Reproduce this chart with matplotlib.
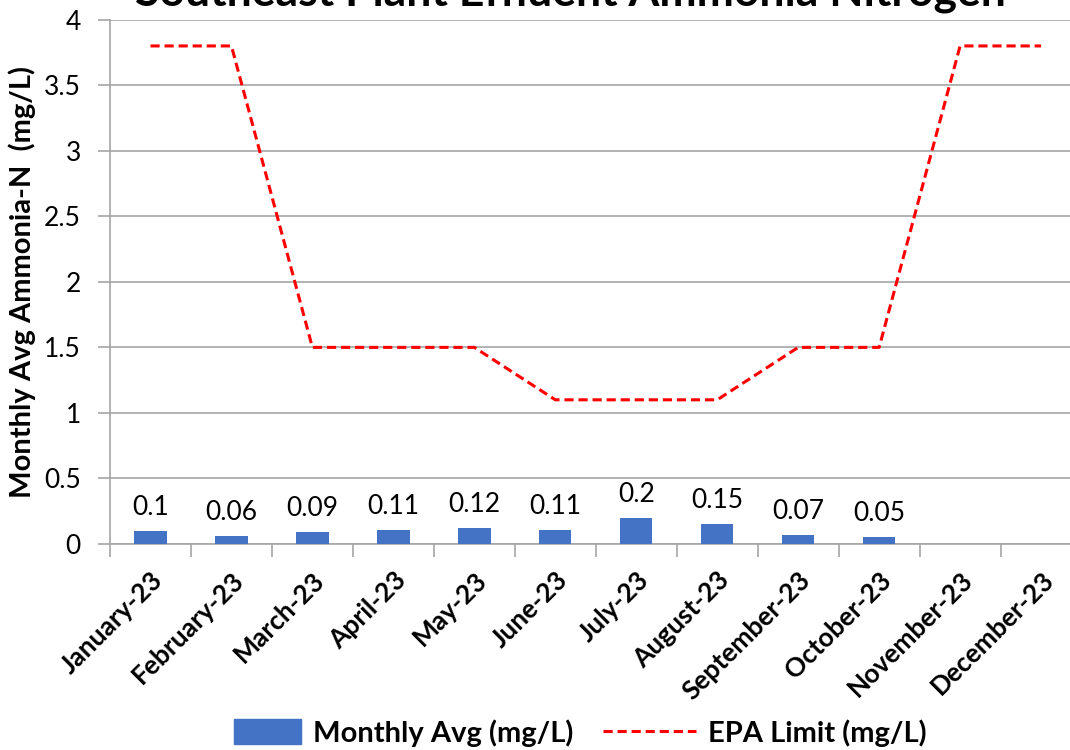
import numpy as np
import matplotlib
matplotlib.use("Agg")
from matplotlib import pyplot as plt
from matplotlib.patches import Patch, Rectangle
from matplotlib.lines import Line2D
from matplotlib.legend_handler import HandlerPatch

months = ["January-23", "February-23", "March-23", "April-23", "May-23", "June-23",
          "July-23", "August-23", "September-23", "October-23", "November-23", "December-23"]
monthly_avg = [0.1, 0.06, 0.09, 0.11, 0.12, 0.11, 0.2, 0.15, 0.07, 0.05, None, None]
epa_limit = [3.8, 3.8, 1.5, 1.5, 1.5, 1.1, 1.1, 1.1, 1.5, 1.5, 3.8, 3.8]
yticks = [0, 0.5, 1, 1.5, 2, 2.5, 3, 3.5, 4]

plt.rcParams['font.family'] = ['Lato', 'DejaVu Sans']

fig = plt.figure(figsize=(10.7, 7.5), dpi=100)
ax = fig.add_axes([0.1028, 0.2747, 0.908, 0.699])

x = np.arange(len(months))
bar_x = [i for i, v in zip(x, monthly_avg) if v is not None]
bar_v = [v for v in monthly_avg if v is not None]
ax.bar(bar_x, bar_v, width=0.4, color="#4472c4", zorder=3)
for xi, v in zip(bar_x, bar_v):
    ax.annotate(f"{v:g}", (xi, v), xytext=(0, 11.5), textcoords="offset points",
                ha="center", va="baseline", fontsize=19)

dash = (0, (3, 1.6))
ax.plot(x, epa_limit, color="red", linestyle=dash, linewidth=2.2, zorder=4)

ax.set_xlim(-0.5, len(months) - 0.5)
ax.set_ylim(0, 4)
ax.set_yticks(yticks)
ax.set_yticklabels([f"{t:g}" for t in yticks], fontsize=19)
ax.grid(axis="y", color="#a6a6a6", linewidth=1.2, zorder=0)
ax.set_axisbelow(True)

ax.set_xticks(x)
ax.set_xticklabels(months, rotation=45, ha="right", rotation_mode="anchor",
                   fontsize=19, fontweight="bold")
ax.tick_params(axis="x", length=0, pad=17)
ax.set_xticks(np.arange(-0.5, len(months)), minor=True)
ax.tick_params(axis="x", which="minor", length=9, color="#a6a6a6", width=1.2)
ax.tick_params(axis="y", length=9, color="#a6a6a6", width=1.2, pad=12)

for s in ["top", "right"]:
    ax.spines[s].set_visible(False)
for s in ["left", "bottom"]:
    ax.spines[s].set_color("#a6a6a6")
    ax.spines[s].set_linewidth(1.2)

ax.set_ylabel("Monthly Avg Ammonia-N  (mg/L)", fontsize=21, fontweight="bold", labelpad=6)
fig.text(0.533, 0.993, "Southeast Plant Effluent Ammonia Nitrogen", ha="center", va="baseline",
         fontsize=32, fontweight="bold")


def narrow_rect(legend, orig_handle, xdescent, ydescent, width, height, fontsize):
    return Rectangle((-xdescent + width * 0.28, -ydescent - height * 0.1), width * 0.72, height * 1.2)


handles = [Patch(color="#4472c4"),
           Line2D([0], [0], color="red", linestyle=dash, linewidth=2.2)]
fig.legend(handles, ["Monthly Avg (mg/L)", "EPA Limit (mg/L)"], loc="center",
           bbox_to_anchor=(0.53, 0.023), ncol=2, frameon=False,
           prop={"size": 21, "weight": "bold"}, handlelength=3.2, handletextpad=0.4,
           columnspacing=1.0, handler_map={Patch: HandlerPatch(patch_func=narrow_rect)})

fig.savefig("out.png", dpi=100)
